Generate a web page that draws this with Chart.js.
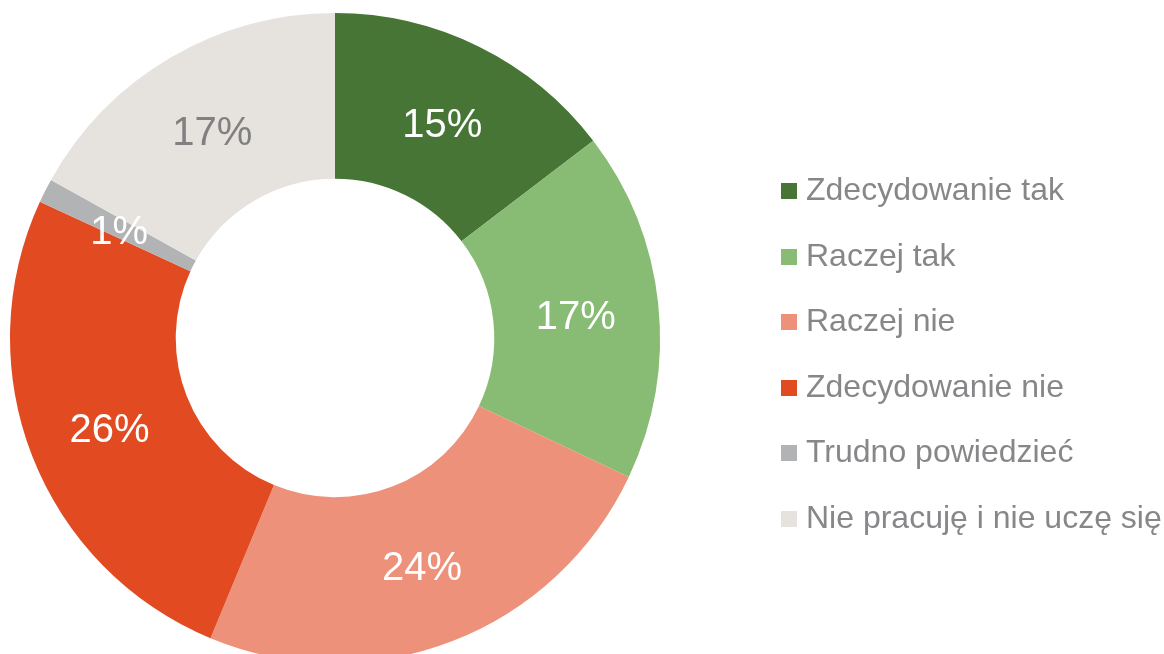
<!DOCTYPE html>
<html>
<head>
<meta charset="utf-8">
<script src="https://cdn.jsdelivr.net/npm/chart.js@4"></script>
<style>
  html, body { margin: 0; padding: 0; background: #fff; overflow: hidden; }
  #wrap { position: relative; width: 1164px; height: 676px; }
  #legend { position: absolute; left: 781px; top: 157px; font-family: "Liberation Sans", Arial, sans-serif; font-size: 32px; color: #87878a; }
  #legend div { height: 65.6px; line-height: 65.6px; white-space: nowrap; }
  #legend span { display: inline-block; width: 16px; height: 16px; margin-right: 9px; vertical-align: 1px; }
</style>
</head>
<body>
<div id="wrap">
  <canvas id="donut" width="1164" height="676"></canvas>
  <div id="legend"></div>
</div>
<script>
var labels = ['Zdecydowanie tak', 'Raczej tak', 'Raczej nie', 'Zdecydowanie nie', 'Trudno powiedzieć', 'Nie pracuję i nie uczę się'];
var values = [14.6, 17.4, 24.2, 25.6, 1.2, 16.9];
var colors = ['#467536', '#88bb73', '#ee917a', '#e24b22', '#b2b3b5', '#e6e3df'];
var labelColors = ['#ffffff', '#ffffff', '#ffffff', '#ffffff', '#ffffff', '#808080'];

var legendBox = document.getElementById('legend');
labels.forEach(function(l, i) {
    var row = document.createElement('div');
    row.innerHTML = '<span style="background:' + colors[i] + '"></span>' + l;
    legendBox.appendChild(row);
});

var pctLabels = {
    id: 'pctLabels',
    afterDatasetsDraw: function(chart) {
        var ctx = chart.ctx;
        var meta = chart.getDatasetMeta(0);
        ctx.save();
        ctx.font = '40px "Liberation Sans", Arial, sans-serif';
        ctx.textAlign = 'center';
        ctx.textBaseline = 'middle';
        meta.data.forEach(function(arc, i) {
            var p = arc.tooltipPosition();
            ctx.fillStyle = labelColors[i];
            ctx.fillText(Math.round(values[i]) + '%', p.x, p.y + 5);
        });
        ctx.restore();
    }
};

var ctx = document.getElementById('donut').getContext('2d');
var chart = new Chart(ctx, {
    type: 'doughnut',
    data: {
        labels: labels,
        datasets: [{
            data: values,
            backgroundColor: colors,
            borderWidth: 0
        }]
    },
    options: {
        responsive: false,
        animation: false,
        cutout: '49%',
        layout: { padding: { left: 10, right: 504, top: 13, bottom: 13 } },
        plugins: {
            legend: { display: false },
            tooltip: { enabled: false }
        }
    },
    plugins: [pctLabels]
});
</script>
</body>
</html>
